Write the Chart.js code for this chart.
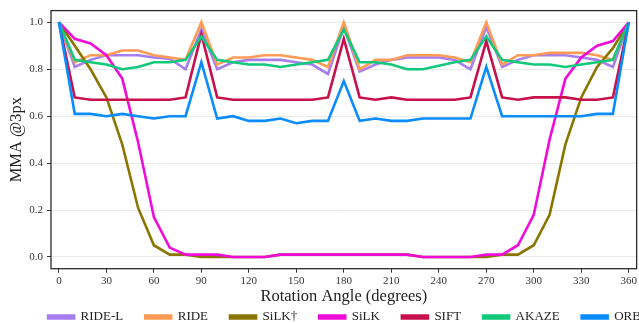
<!DOCTYPE html>
<html>
<head>
<meta charset="utf-8">
<script src="https://cdn.jsdelivr.net/npm/chart.js@4.4.1/dist/chart.umd.min.js"></script>
<style>
  html, body { margin: 0; padding: 0; background: #ffffff; }
  #wrap { width: 639px; height: 323px; }
</style>
</head>
<body>
<div id="wrap"><canvas id="mmaChart"></canvas></div>
<script>
// rotation angles (degrees)
const angles = [0, 10, 20, 30, 40, 50, 60, 70, 80, 90, 100, 110, 120, 130, 140, 150, 160, 170, 180,
    190, 200, 210, 220, 230, 240, 250, 260, 270, 280, 290, 300, 310, 320, 330, 340, 350, 360];

const rideL = [1.0, 0.81, 0.84, 0.86, 0.86, 0.86, 0.85, 0.845, 0.80, 0.97, 0.80, 0.83, 0.84, 0.84, 0.84, 0.83, 0.82, 0.78, 0.98,
    0.79, 0.82, 0.84, 0.85, 0.85, 0.85, 0.84, 0.80, 0.98, 0.81, 0.84, 0.86, 0.86, 0.86, 0.85, 0.84, 0.81, 1.0];
const ride = [1.0, 0.83, 0.86, 0.86, 0.88, 0.88, 0.86, 0.85, 0.84, 1.0, 0.82, 0.85, 0.85, 0.86, 0.86, 0.85, 0.84, 0.81, 1.0,
    0.80, 0.84, 0.84, 0.86, 0.86, 0.86, 0.85, 0.83, 1.0, 0.82, 0.86, 0.86, 0.87, 0.87, 0.87, 0.86, 0.84, 1.0];
const silkDagger = [1.0, 0.90, 0.80, 0.68, 0.48, 0.21, 0.05, 0.01, 0.01, 0.0, 0.0, 0.0, 0.0, 0.0, 0.01, 0.01, 0.01, 0.01, 0.01,
    0.01, 0.01, 0.01, 0.01, 0.0, 0.0, 0.0, 0.0, 0.0, 0.01, 0.01, 0.05, 0.18, 0.48, 0.68, 0.81, 0.89, 1.0];
const silk = [1.0, 0.93, 0.91, 0.86, 0.76, 0.49, 0.17, 0.04, 0.01, 0.01, 0.01, 0.0, 0.0, 0.0, 0.01, 0.01, 0.01, 0.01, 0.01,
    0.01, 0.01, 0.01, 0.01, 0.0, 0.0, 0.0, 0.0, 0.01, 0.01, 0.05, 0.18, 0.50, 0.76, 0.85, 0.90, 0.92, 1.0];
const sift = [1.0, 0.68, 0.67, 0.67, 0.67, 0.67, 0.67, 0.67, 0.68, 0.95, 0.68, 0.67, 0.67, 0.67, 0.67, 0.67, 0.67, 0.68, 0.93,
    0.68, 0.67, 0.68, 0.67, 0.67, 0.67, 0.67, 0.68, 0.92, 0.68, 0.67, 0.68, 0.68, 0.68, 0.67, 0.67, 0.68, 1.0];
const akaze = [1.0, 0.84, 0.83, 0.82, 0.80, 0.81, 0.83, 0.83, 0.84, 0.94, 0.84, 0.83, 0.82, 0.82, 0.81, 0.82, 0.83, 0.84, 0.97,
    0.83, 0.83, 0.82, 0.80, 0.80, 0.815, 0.83, 0.84, 0.94, 0.84, 0.83, 0.82, 0.82, 0.81, 0.82, 0.83, 0.84, 1.0];
const orb = [1.0, 0.61, 0.61, 0.60, 0.61, 0.60, 0.59, 0.60, 0.60, 0.83, 0.59, 0.60, 0.58, 0.58, 0.59, 0.57, 0.58, 0.58, 0.75,
    0.58, 0.59, 0.58, 0.58, 0.59, 0.59, 0.59, 0.59, 0.81, 0.60, 0.60, 0.60, 0.60, 0.60, 0.60, 0.61, 0.61, 1.0];

const seriesNames = ["RIDE-L", "RIDE", "SiLK\u2020", "SiLK", "SIFT", "AKAZE", "ORB"];
const seriesValues = [rideL, ride, silkDagger, silk, sift, akaze, orb];
const seriesColors = ["#a77ef0", "#ff9b55", "#8a7500", "#f00cd8", "#c8104b", "#12c87a", "#0a8cff"];

const xTicks = [0, 30, 60, 90, 120, 150, 180, 210, 240, 270, 300, 330, 360];
const yTicks = [0.0, 0.2, 0.4, 0.6, 0.8, 1.0];

const serif = "'Liberation Serif', 'DejaVu Serif', serif";

// frame around the plot area
const frame = {
    id: "frame",
    afterDraw(chart) {
        const a = chart.chartArea;
        const ctx = chart.ctx;
        ctx.save();
        ctx.strokeStyle = "#2b2b2b";
        ctx.lineWidth = 1.3;
        ctx.strokeRect(a.left, a.top, a.right - a.left, a.bottom - a.top);
        ctx.restore();
    }
};

const datasets = seriesNames.map((name, i) => ({
    label: name,
    data: angles.map((a, j) => ({ x: a, y: seriesValues[i][j] })),
    borderColor: seriesColors[i],
    backgroundColor: seriesColors[i],
    borderWidth: 2.6,
    pointRadius: 0,
    tension: 0,
    order: seriesNames.length - i
}));

const ctx = document.getElementById("mmaChart").getContext("2d");

new Chart(ctx, {
    type: "line",
    data: { datasets: datasets },
    plugins: [frame],
    options: {
        responsive: true,
        maintainAspectRatio: false,
        animation: false,
        layout: { padding: { left: 20, right: -30, top: 9, bottom: -10.5 } },
        plugins: {
            tooltip: { enabled: false },
            legend: {
                position: "bottom",
                labels: {
                    boxWidth: 26,
                    boxHeight: 3,
                    padding: 22,
                    color: "#222",
                    font: { family: serif, size: 13 },
                    sort: (a, b) => a.datasetIndex - b.datasetIndex
                }
            }
        },
        scales: {
            x: {
                type: "linear",
                min: -5,
                max: 365,
                afterBuildTicks: s => { s.ticks = xTicks.map(v => ({ value: v })); },
                afterFit: s => { s.height = 19.8; },
                border: { display: false },
                grid: { drawOnChartArea: false, drawTicks: true, tickLength: 4, tickColor: "#333", tickWidth: 1 },
                ticks: { color: "#333", padding: 2, maxRotation: 0, font: { family: serif, size: 11 } },
                title: {
                    display: true,
                    text: "Rotation Angle (degrees)",
                    color: "#222",
                    font: { family: serif, size: 16.5 },
                    padding: { top: 0, bottom: -18.4 }
                }
            },
            y: {
                min: -0.05,
                max: 1.05,
                afterBuildTicks: s => { s.ticks = yTicks.map(v => ({ value: v })); },
                afterFit: s => { s.width = 31; },
                border: { display: false },
                grid: { color: "#e9e9e9", lineWidth: 1, drawTicks: true, tickLength: 4, tickColor: "#333" },
                ticks: {
                    color: "#333",
                    padding: 4,
                    font: { family: serif, size: 11 },
                    callback: v => Number(v).toFixed(1)
                },
                title: {
                    display: true,
                    text: "MMA @3px",
                    color: "#222",
                    font: { family: serif, size: 16.5 },
                    padding: { top: -12.9, bottom: 0 }
                }
            },
            // empty right-hand box so the legend can use the full width
            yRight: {
                position: "right",
                display: true,
                afterFit: s => { s.width = 32; },
                ticks: { display: false },
                grid: { display: false },
                border: { display: false }
            }
        }
    }
});
</script>
</body>
</html>
